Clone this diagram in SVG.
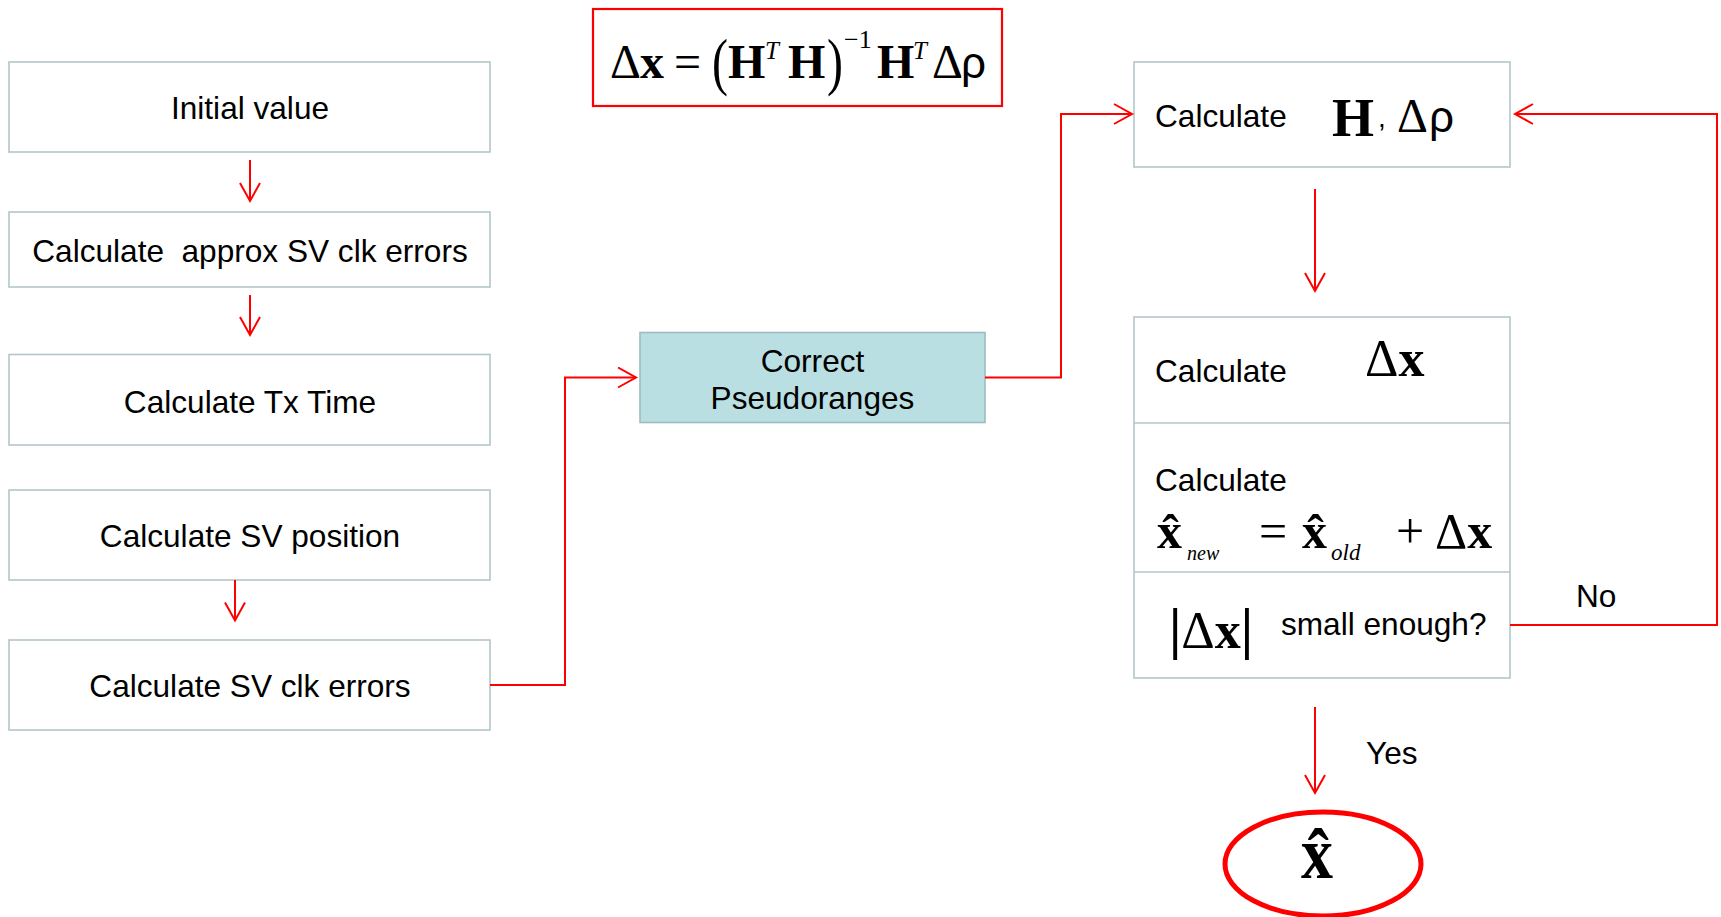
<svg xmlns="http://www.w3.org/2000/svg" width="1721" height="917" viewBox="0 0 1721 917">
<defs>
<style>
.box{fill:#ffffff;stroke:#b3c6ca;stroke-width:1.6}
.teal{fill:#b9dfe3;stroke:#9fbcc0;stroke-width:1.6}
.lbl{font-family:"Liberation Sans",Arial,sans-serif;font-size:31.6px;fill:#000}
.mid{text-anchor:middle}
.m{font-family:"Liberation Serif","Times New Roman",serif;fill:#000}
.mb{font-family:"Liberation Serif","Times New Roman",serif;font-weight:bold;fill:#000}
.mi{font-family:"Liberation Serif","Times New Roman",serif;font-style:italic;fill:#000}
.sans{font-family:"Liberation Sans",Arial,sans-serif;fill:#000}
.con{fill:none;stroke:#ff0000;stroke-width:2}
</style>
<marker id="arr" markerUnits="userSpaceOnUse" markerWidth="22" markerHeight="24" refX="18" refY="10" orient="auto" viewBox="-1 -1 22 24">
<path d="M0,0 L18,10 L0,20" fill="none" stroke="#ff0000" stroke-width="2"/>
</marker>
</defs>
<rect width="1721" height="917" fill="#ffffff"/>

<g id="formula">
<rect x="593" y="9" width="409" height="97" fill="#ffffff" stroke="#ff0000" stroke-width="2.2"/>
<text class="m" x="610" y="78" font-size="48">Δ</text>
<text class="mb" x="640" y="78" font-size="48">x</text>
<text class="m" x="674" y="78" font-size="48">=</text>
<text class="m" transform="translate(712,83) scale(1,1.3)" font-size="48">(</text>
<text class="mb" x="728" y="78" font-size="48">H</text>
<text class="mi" x="765" y="59" font-size="25">T</text>
<text class="mb" x="788" y="78" font-size="48">H</text>
<text class="m" transform="translate(827,83) scale(1,1.3)" font-size="48">)</text>
<text class="m" x="844" y="48" font-size="26">−1</text>
<text class="mb" x="877" y="78" font-size="48">H</text>
<text class="mi" x="913" y="59" font-size="25">T</text>
<text class="m" x="932" y="78" font-size="48">Δ</text>
<text class="sans" x="961" y="78" font-size="44">ρ</text>
</g>

<g id="n-initial">
<rect class="box" x="9" y="62" width="481" height="90"/>
<text class="lbl mid" x="250" y="119">Initial value</text>
</g>
<g id="n-approx">
<rect class="box" x="9" y="212" width="481" height="75"/>
<text class="lbl mid" x="250" y="262" xml:space="preserve">Calculate  approx SV clk errors</text>
</g>
<g id="n-txtime">
<rect class="box" x="9" y="354.5" width="481" height="90.5"/>
<text class="lbl mid" x="250" y="412.5">Calculate Tx Time</text>
</g>
<g id="n-svpos">
<rect class="box" x="9" y="490" width="481" height="90"/>
<text class="lbl mid" x="250" y="547">Calculate SV position</text>
</g>
<g id="n-svclk">
<rect class="box" x="9" y="640" width="481" height="90"/>
<text class="lbl mid" x="250" y="697">Calculate SV clk errors</text>
</g>

<g id="n-correct">
<rect class="teal" x="640" y="332.5" width="345" height="90"/>
<text class="lbl mid" x="812.5" y="372">Correct</text>
<text class="lbl mid" x="812.5" y="408.5">Pseudoranges</text>
</g>

<g id="n-calcH">
<rect class="box" x="1134" y="62" width="376" height="105"/>
<text class="lbl" x="1155" y="127">Calculate</text>
<text class="mb" x="1332" y="136" font-size="54">H</text>
<text class="sans" x="1378" y="127" font-size="28">,</text>
<text class="m" x="1397" y="132" font-size="48">Δ</text>
<text class="sans" x="1429" y="132" font-size="44">ρ</text>
</g>

<g id="n-iter">
<rect class="box" x="1134" y="317" width="376" height="361"/>
<line x1="1134" y1="423" x2="1510" y2="423" stroke="#b3c6ca" stroke-width="1.6"/>
<line x1="1134" y1="572" x2="1510" y2="572" stroke="#b3c6ca" stroke-width="1.6"/>
<text class="lbl" x="1155" y="382">Calculate</text>
<text x="1365" y="376" font-size="52"><tspan class="m">Δ</tspan><tspan class="mb">x</tspan></text>
<text class="lbl" x="1155" y="491">Calculate</text>
<text class="mb" x="1157" y="548" font-size="50">x̂</text>
<text class="mi" x="1187" y="560" font-size="20">new</text>
<text class="m" x="1259" y="548" font-size="50">=</text>
<text class="mb" x="1302" y="548" font-size="50">x̂</text>
<text class="mi" x="1331" y="560" font-size="23">old</text>
<text class="m" x="1396" y="548" font-size="50">+</text>
<text x="1435" y="548" font-size="50"><tspan class="m">Δ</tspan><tspan class="mb">x</tspan></text>
<text x="1169" y="648" font-size="52"><tspan class="mb" font-size="56">|</tspan><tspan class="m">Δ</tspan><tspan class="mb">x</tspan><tspan class="mb" font-size="56">|</tspan></text>
<text class="lbl" x="1281" y="635">small enough?</text>
</g>

<g id="n-result">
<ellipse cx="1323" cy="864" rx="98" ry="52" fill="none" stroke="#ff0000" stroke-width="5"/>
<text class="mb" text-anchor="middle" transform="translate(1317,878) scale(1,1.15)" font-size="64">x̂</text>
</g>

<g id="connectors">
<line class="con" x1="250" y1="160" x2="250" y2="201" marker-end="url(#arr)"/>
<line class="con" x1="250" y1="295" x2="250" y2="335" marker-end="url(#arr)"/>
<line class="con" x1="235" y1="580" x2="235" y2="620.5" marker-end="url(#arr)"/>
<polyline class="con" points="490,685 565,685 565,377.5 636,377.5" marker-end="url(#arr)"/>
<polyline class="con" points="985,377.5 1061,377.5 1061,114 1132,114" marker-end="url(#arr)"/>
<line class="con" x1="1315" y1="189" x2="1315" y2="291" marker-end="url(#arr)"/>
<line class="con" x1="1315" y1="707" x2="1315" y2="793" marker-end="url(#arr)"/>
<polyline class="con" points="1510,625 1717,625 1717,114 1515,114" marker-end="url(#arr)"/>
<text class="lbl" x="1576" y="607">No</text>
<text class="lbl" x="1366" y="764">Yes</text>
</g>
</svg>
